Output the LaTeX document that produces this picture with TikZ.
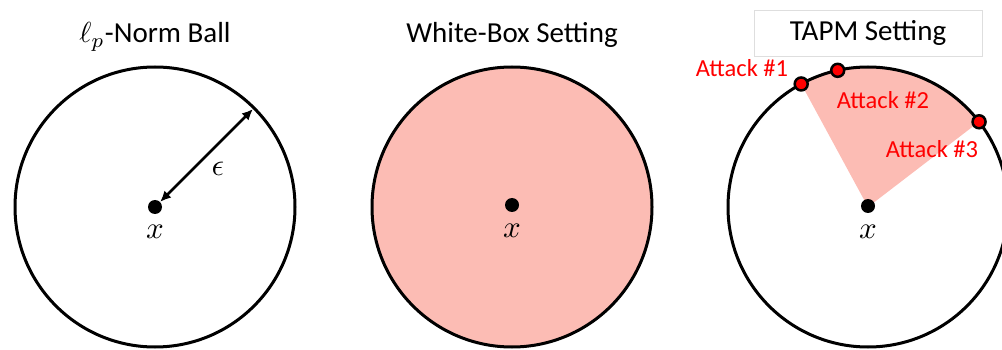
\documentclass[tikz,border=0pt]{standalone}
\usepackage{graphicx}
\usepackage{fontspec}
\setmainfont{Carlito}
\usetikzlibrary{arrows.meta,calc}
\definecolor{salmon}{RGB}{252,188,180}
\definecolor{atk}{RGB}{255,0,0}
\definecolor{boxgrey}{RGB}{222,222,222}
\begin{document}
\begin{tikzpicture}[x=1pt,y=-1pt,
  ball/.style={draw=black,line width=3pt},
  ctr/.style={circle,fill=black,inner sep=0pt,minimum size=14pt},
  atkdot/.style={circle,fill=atk,draw=black,line width=2.5pt,inner sep=0pt,minimum size=13pt},
  ttl/.style={font=\fontsize{29}{33}\selectfont,inner sep=0pt},
  atklbl/.style={font=\fontsize{24.5}{28}\selectfont,text=atk,inner sep=0pt},
  xlbl/.style={font=\normalsize,scale=3.1,inner sep=0pt}]
\useasboundingbox (0,0) rectangle (1002,350);
% panel 1
\draw[ball] (155,207) circle[radius=140];
\node[ctr] (c1) at (155,207) {};
\node[xlbl] (x1) at (155,232) {$x$};
\node[ttl] (t1) at (155,37) {\scalebox{2.9}{\normalsize$\ell_p$}-Norm Ball};
\coordinate (e1) at ($(155,207)+(-45:138.5)$);
\draw[line width=2.5pt,{Latex[length=11pt,width=10pt]}-{Latex[length=11pt,width=10pt]}] (c1) -- (e1);
\node[xlbl] (eps) at (218,169) {$\epsilon$};
% panel 2
\draw[ball,fill=salmon] (512,207) circle[radius=140];
\node[ctr] (c2) at (512,205) {};
\node[xlbl] (x2) at (512,231) {$x$};
\node[ttl] (t2) at (512,35) {White-Box Setting};
% panel 3
\fill[salmon] (868,207) -- ++(-37.5:140) arc[start angle=-37.5,end angle=-118.5,radius=140] -- cycle;
\draw[ball] (868,207) circle[radius=140];
\node[ctr] (c3) at (868,206) {};
\node[xlbl] (x3) at (868,232) {$x$};
\node[draw=boxgrey,line width=0.8pt,minimum width=228pt,minimum height=46pt,inner sep=0pt] (bx) at (868,33) {};
\node[ttl] (t3) at (868,33) {TAPM Setting};
\node[atkdot] (a1) at ($(868,207)+(-118.5:140)$) {};
\node[atkdot] (a2) at ($(868,207)+(-102.5:140)$) {};
\node[atkdot] (a3) at ($(868,207)+(-37.5:140)$) {};
\node[atklbl] (l1) at (742,68) {Attack \#1};
\node[atklbl] (l2) at (883,100) {Attack \#2};
\node[atklbl] (l3) at (932,149) {Attack \#3};
\end{tikzpicture}
\end{document}
